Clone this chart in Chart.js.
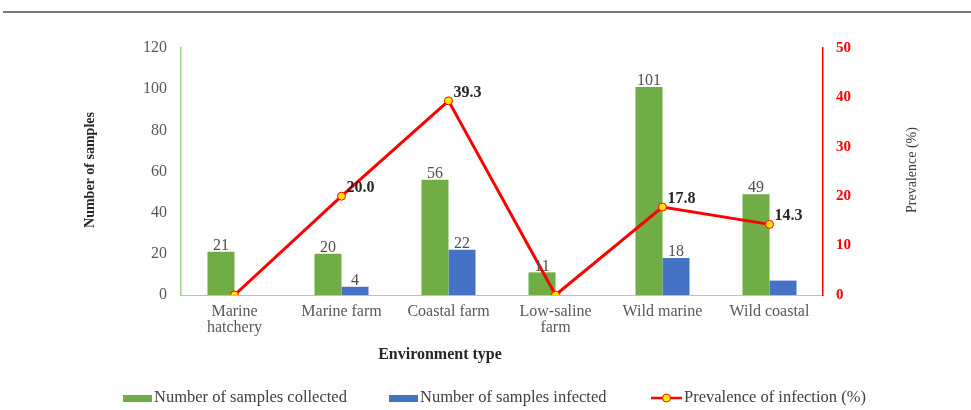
<!DOCTYPE html>
<html>
<head>
<meta charset="utf-8">
<script src="https://cdn.jsdelivr.net/npm/chart.js@4/dist/chart.umd.min.js"></script>
<style>
    html, body { margin: 0; padding: 0; background: #fff; }
    #wrap { width: 971px; height: 410px; }
</style>
</head>
<body>
<div id="wrap"><canvas id="chart" width="971" height="410"></canvas></div>
<script>
    // data
    const categories = [['Marine', 'hatchery'], 'Marine farm', 'Coastal farm', ['Low-saline', 'farm'], 'Wild marine', 'Wild coastal'];
    const collected = [21, 20, 56, 11, 101, 49];
    const infected = [0, 4, 22, 0, 18, 7];
    const prevalence = [0, 20.0, 39.3, 0, 17.8, 14.3];

    // which values carry a printed label in the figure
    const collectedLabels = ['21', '20', '56', '11', '101', '49'];
    const infectedLabels = ['', '4', '22', '', '18', ''];
    const prevalenceLabels = ['', '20.0', '39.3', '', '17.8', '14.3'];

    const leftTicks = [0, 20, 40, 60, 80, 100, 120];
    const rightTicks = [0, 10, 20, 30, 40, 50];

    const serif = '"Liberation Serif", "DejaVu Serif", serif';
    const green = '#70AD47';
    const blue = '#4472C4';
    const red = '#FF0000';
    const yellow = '#FFE600';

    // labels, titles, legend and the frame line
    const extras = {
        id: 'extras',
        beforeDraw: function (chart) {
            const ctx = chart.ctx;
            ctx.save();
            ctx.strokeStyle = '#7a7a7a';
            ctx.lineWidth = 2;
            ctx.beginPath();
            ctx.moveTo(3, 12);
            ctx.lineTo(971, 12);
            ctx.stroke();
            ctx.restore();
        },
        afterDatasetsDraw: function (chart) {
            const ctx = chart.ctx;
            ctx.save();

            // bar values
            ctx.font = '16px ' + serif;
            ctx.fillStyle = '#505050';
            ctx.textAlign = 'center';
            ctx.textBaseline = 'bottom';
            chart.getDatasetMeta(0).data.forEach((bar, i) => {
                if (collectedLabels[i]) ctx.fillText(collectedLabels[i], bar.x, bar.y + 2);
            });
            chart.getDatasetMeta(1).data.forEach((bar, i) => {
                if (infectedLabels[i]) ctx.fillText(infectedLabels[i], bar.x, bar.y + 2);
            });

            // prevalence values
            ctx.font = 'bold 16px ' + serif;
            ctx.fillStyle = '#262626';
            ctx.textAlign = 'left';
            ctx.textBaseline = 'middle';
            chart.getDatasetMeta(2).data.forEach((pt, i) => {
                if (prevalenceLabels[i]) ctx.fillText(prevalenceLabels[i], pt.x + 5, pt.y - 8);
            });

            ctx.restore();
        },
        afterDraw: function (chart) {
            const ctx = chart.ctx;
            ctx.save();

            // axis titles
            ctx.textAlign = 'center';
            ctx.textBaseline = 'middle';
            ctx.fillStyle = '#262626';
            ctx.font = 'bold 16px ' + serif;
            ctx.fillText('Environment type', 440, 355);

            ctx.save();
            ctx.translate(90, 170);
            ctx.rotate(-Math.PI / 2);
            ctx.font = 'bold 14px ' + serif;
            ctx.fillText('Number of samples', 0, 0);
            ctx.restore();

            ctx.save();
            ctx.translate(912, 170);
            ctx.rotate(-Math.PI / 2);
            ctx.font = '14px ' + serif;
            ctx.fillStyle = '#404040';
            ctx.fillText('Prevalence (%)', 0, 0);
            ctx.restore();

            // legend
            const ly = 398;
            ctx.font = '16.5px ' + serif;
            ctx.textAlign = 'left';

            ctx.fillStyle = green;
            ctx.fillRect(123, ly - 3, 29, 7);
            ctx.fillStyle = '#404040';
            ctx.fillText('Number of samples collected', 154, ly);

            ctx.fillStyle = blue;
            ctx.fillRect(389, ly - 3, 29, 7);
            ctx.fillStyle = '#404040';
            ctx.fillText('Number of samples infected', 420, ly);

            ctx.strokeStyle = red;
            ctx.lineWidth = 2.5;
            ctx.beginPath();
            ctx.moveTo(651, ly);
            ctx.lineTo(682, ly);
            ctx.stroke();
            ctx.beginPath();
            ctx.arc(666.5, ly, 4, 0, Math.PI * 2);
            ctx.fillStyle = yellow;
            ctx.fill();
            ctx.lineWidth = 1;
            ctx.stroke();
            ctx.fillStyle = '#404040';
            ctx.fillText('Prevalence of infection (%)', 684, ly);

            ctx.restore();
        }
    };

    new Chart(document.getElementById('chart'), {
        type: 'bar',
        data: {
            labels: categories,
            datasets: [{
                label: 'Number of samples collected',
                data: collected,
                backgroundColor: green,
                yAxisID: 'y',
                order: 1,
                categoryPercentage: 0.505,
                barPercentage: 1
            }, {
                label: 'Number of samples infected',
                data: infected,
                backgroundColor: blue,
                yAxisID: 'y',
                order: 2,
                categoryPercentage: 0.505,
                barPercentage: 1
            }, {
                type: 'line',
                label: 'Prevalence of infection (%)',
                data: prevalence,
                yAxisID: 'y1',
                order: 0,
                borderColor: red,
                borderWidth: 3,
                tension: 0,
                pointRadius: 4,
                pointBackgroundColor: yellow,
                pointBorderColor: red,
                pointBorderWidth: 1
            }]
        },
        options: {
            responsive: false,
            animation: false,
            devicePixelRatio: 1,
            layout: {
                padding: {top: 48, left: 0, right: 0, bottom: 0}
            },
            plugins: {
                legend: {display: false},
                tooltip: {enabled: false}
            },
            scales: {
                x: {
                    grid: {display: false, drawTicks: false},
                    border: {color: '#BFBFBF', width: 1},
                    ticks: {
                        color: '#595959',
                        font: {family: serif, size: 16, lineHeight: 1.0},
                        padding: 9,
                        autoSkip: false,
                        maxRotation: 0
                    },
                    afterFit: (scale) => {
                        scale.height = 115;
                    }
                },
                y: {
                    position: 'left',
                    min: 0,
                    max: 120,
                    afterBuildTicks: (scale) => {
                        scale.ticks = leftTicks.map((v) => ({value: v}));
                    },
                    grid: {display: false, drawTicks: false},
                    border: {color: '#A9D18E', width: 1.5},
                    ticks: {
                        color: '#595959',
                        font: {family: serif, size: 16},
                        padding: 14
                    },
                    afterFit: (scale) => {
                        scale.width = 181;
                    }
                },
                y1: {
                    position: 'right',
                    min: 0,
                    max: 50,
                    afterBuildTicks: (scale) => {
                        scale.ticks = rightTicks.map((v) => ({value: v}));
                    },
                    grid: {display: false, drawTicks: false},
                    border: {color: red, width: 1.5},
                    ticks: {
                        color: red,
                        font: {family: serif, size: 15, weight: 'bold'},
                        padding: 13
                    },
                    afterFit: (scale) => {
                        scale.width = 148;
                    }
                }
            }
        },
        plugins: [extras]
    });
</script>
</body>
</html>
